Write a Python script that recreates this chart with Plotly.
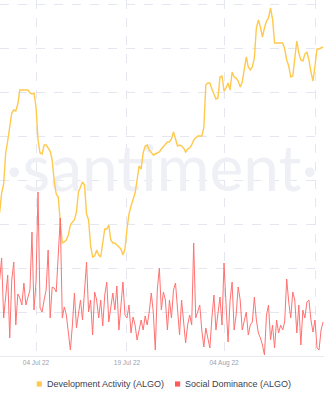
import pandas as pd
import plotly.graph_objects as go

start = "2022-06-28 00:00"
freq = "8h"

dev_activity = [
    143, 163, 172, 203, 215, 227, 243, 246, 245, 252,
    266, 266, 266, 266, 266, 263, 262, 263, 249, 216,
    203, 202, 211, 211, 208, 205, 196, 175, 162, 159,
    134, 113, 114, 116, 121, 131, 134, 136, 144, 164,
    169, 174, 171, 142, 136, 110, 99, 100, 106, 101,
    99, 112, 127, 127, 131, 116, 113, 113, 111, 110,
    107, 101, 107, 127, 142, 150, 156, 163, 176, 190,
    187, 203, 210, 211, 206, 203, 201, 202, 203, 204,
    207, 209, 211, 214, 214, 217, 224, 218, 210, 211,
    210, 208, 204, 207, 208, 211, 216, 218, 220, 220,
    220, 228, 271, 273, 273, 267, 261, 257, 258, 279,
    280, 265, 268, 273, 266, 284, 279, 278, 275, 269,
    274, 286, 299, 289, 286, 289, 298, 328, 336, 329,
    319, 328, 335, 338, 348, 337, 313, 313, 313, 313,
    313, 307, 296, 290, 279, 280, 298, 315, 303, 296,
    295, 302, 304, 296, 284, 275, 290, 307, 307, 308,
    309,
]

social_dominance = [
    0.76, 0.98, 0.38, 0.64, 0.81, 0.18, 0.76, 0.94, 0.31, 0.62,
    0.58, 0.51, 0.73, 0.51, 0.60, 0.66, 1.24, 0.46, 0.74, 1.64,
    0.48, 0.44, 0.56, 0.66, 1.06, 0.38, 0.69, 0.68, 0.64, 1.06,
    1.38, 0.38, 0.49, 0.41, 0.26, 0.06, 0.31, 0.63, 0.28, 0.44,
    0.56, 0.36, 0.71, 0.94, 0.44, 0.56, 0.21, 0.64, 0.56, 0.38,
    0.56, 0.30, 0.61, 0.74, 0.34, 0.51, 0.63, 0.46, 0.70, 0.26,
    0.54, 0.74, 0.41, 0.38, 0.51, 0.23, 0.39, 0.31, 0.16, 0.26,
    0.36, 0.26, 0.40, 0.31, 0.44, 0.63, 0.44, 0.06, 0.66, 0.88,
    0.46, 0.64, 0.56, 0.26, 0.56, 0.38, 0.66, 0.73, 0.46, 0.21,
    0.56, 0.36, 0.13, 0.31, 0.41, 0.31, 1.13, 0.38, 0.44, 0.51,
    0.26, 0.09, 0.28, 0.16, 0.08, 0.38, 0.61, 0.26, 0.43, 0.59,
    0.31, 0.93, 0.51, 0.14, 0.56, 0.74, 0.26, 0.41, 0.69, 0.56,
    0.26, 0.36, 0.44, 0.21, 0.31, 0.34, 0.59, 0.36, 0.23, 0.18,
    0.11, 0.01, 0.41, 0.51, 0.16, 0.31, 0.08, 0.36, 0.23, 0.31,
    0.26, 0.34, 0.77, 0.54, 0.38, 0.64, 0.56, 0.23, 0.51, 0.11,
    0.46, 0.38, 0.54, 0.56, 0.36, 0.24, 0.36, 0.08, 0.06, 0.26,
    0.34,
]

tick_dates = ["2022-07-04", "2022-07-19", "2022-08-04", "2022-08-19"]
tick_labels = ["04 Jul 22", "19 Jul 22", "04 Aug 22", "19 Aug 22"]
x_range = ["2022-06-28 01:30", "2022-08-20 11:37"]
series_names = ["Development Activity (ALGO)", "Social Dominance (ALGO)"]

YELLOW = "#FFC94D"
RED = "#FF5A5A"

dates = pd.date_range(start, periods=len(dev_activity), freq=freq)

fig = go.Figure()

# watermark (under the lines)
mid = pd.Timestamp(x_range[0]) + (pd.Timestamp(x_range[1]) - pd.Timestamp(x_range[0])) / 2
fig.add_trace(go.Scatter(
    x=[mid], y=[181], mode="text", text=["·santiment·"],
    textfont=dict(family="Lato", size=64, color="#EEF0F6"),
    hoverinfo="skip", showlegend=False, yaxis="y"))

fig.add_trace(go.Scatter(
    x=dates, y=dev_activity, mode="lines", name=series_names[0],
    line=dict(color=YELLOW, width=1.4), yaxis="y", showlegend=False))
fig.add_trace(go.Scatter(
    x=dates, y=social_dominance, mode="lines", name=series_names[1],
    line=dict(color=RED, width=1), opacity=0.85, yaxis="y2", showlegend=False))

GRID = "#E4E7EF"
fig.update_layout(
    width=324, height=400,
    margin=dict(l=0, r=0, t=0, b=44),
    paper_bgcolor="white", plot_bgcolor="white",
    showlegend=False,
    xaxis=dict(
        type="date", range=x_range,
        tickvals=tick_dates, ticktext=tick_labels,
        tickfont=dict(family="Liberation Sans", size=6.5, color="#9A9FB0"),
        showgrid=True, gridcolor=GRID, griddash="dash", gridwidth=1,
        showline=True, linecolor="#E8EAF0", linewidth=1,
        ticks="", zeroline=False,
    ),
    yaxis=dict(
        range=[0, 356], dtick=44, tick0=0,
        showgrid=True, gridcolor=GRID, griddash="dash", gridwidth=1,
        showticklabels=False, zeroline=False, ticks="",
    ),
    yaxis2=dict(
        range=[0, 3.56], overlaying="y", side="right",
        showgrid=False, showticklabels=False, zeroline=False, ticks="",
    ),
)

# legend drawn as shapes + annotations
def py(p):
    return (356 - p) / 356

legend_items = [
    (36.7, 45.3, YELLOW, series_names[0]),
    (175.0, 183.3, RED, series_names[1]),
]
for sq_x, tx, col, name in legend_items:
    fig.add_shape(type="rect", xref="paper", yref="paper",
                  x0=sq_x / 324, x1=(sq_x + 5.2) / 324,
                  y0=py(386.6), y1=py(381.4),
                  fillcolor=col, line=dict(width=0))
    fig.add_annotation(xref="paper", yref="paper", x=tx / 324, y=py(384),
                       xanchor="left", yanchor="middle", showarrow=False,
                       text=name,
                       font=dict(family="Liberation Sans", size=9, color="#3B4050"))

fig.write_html("out.html")
